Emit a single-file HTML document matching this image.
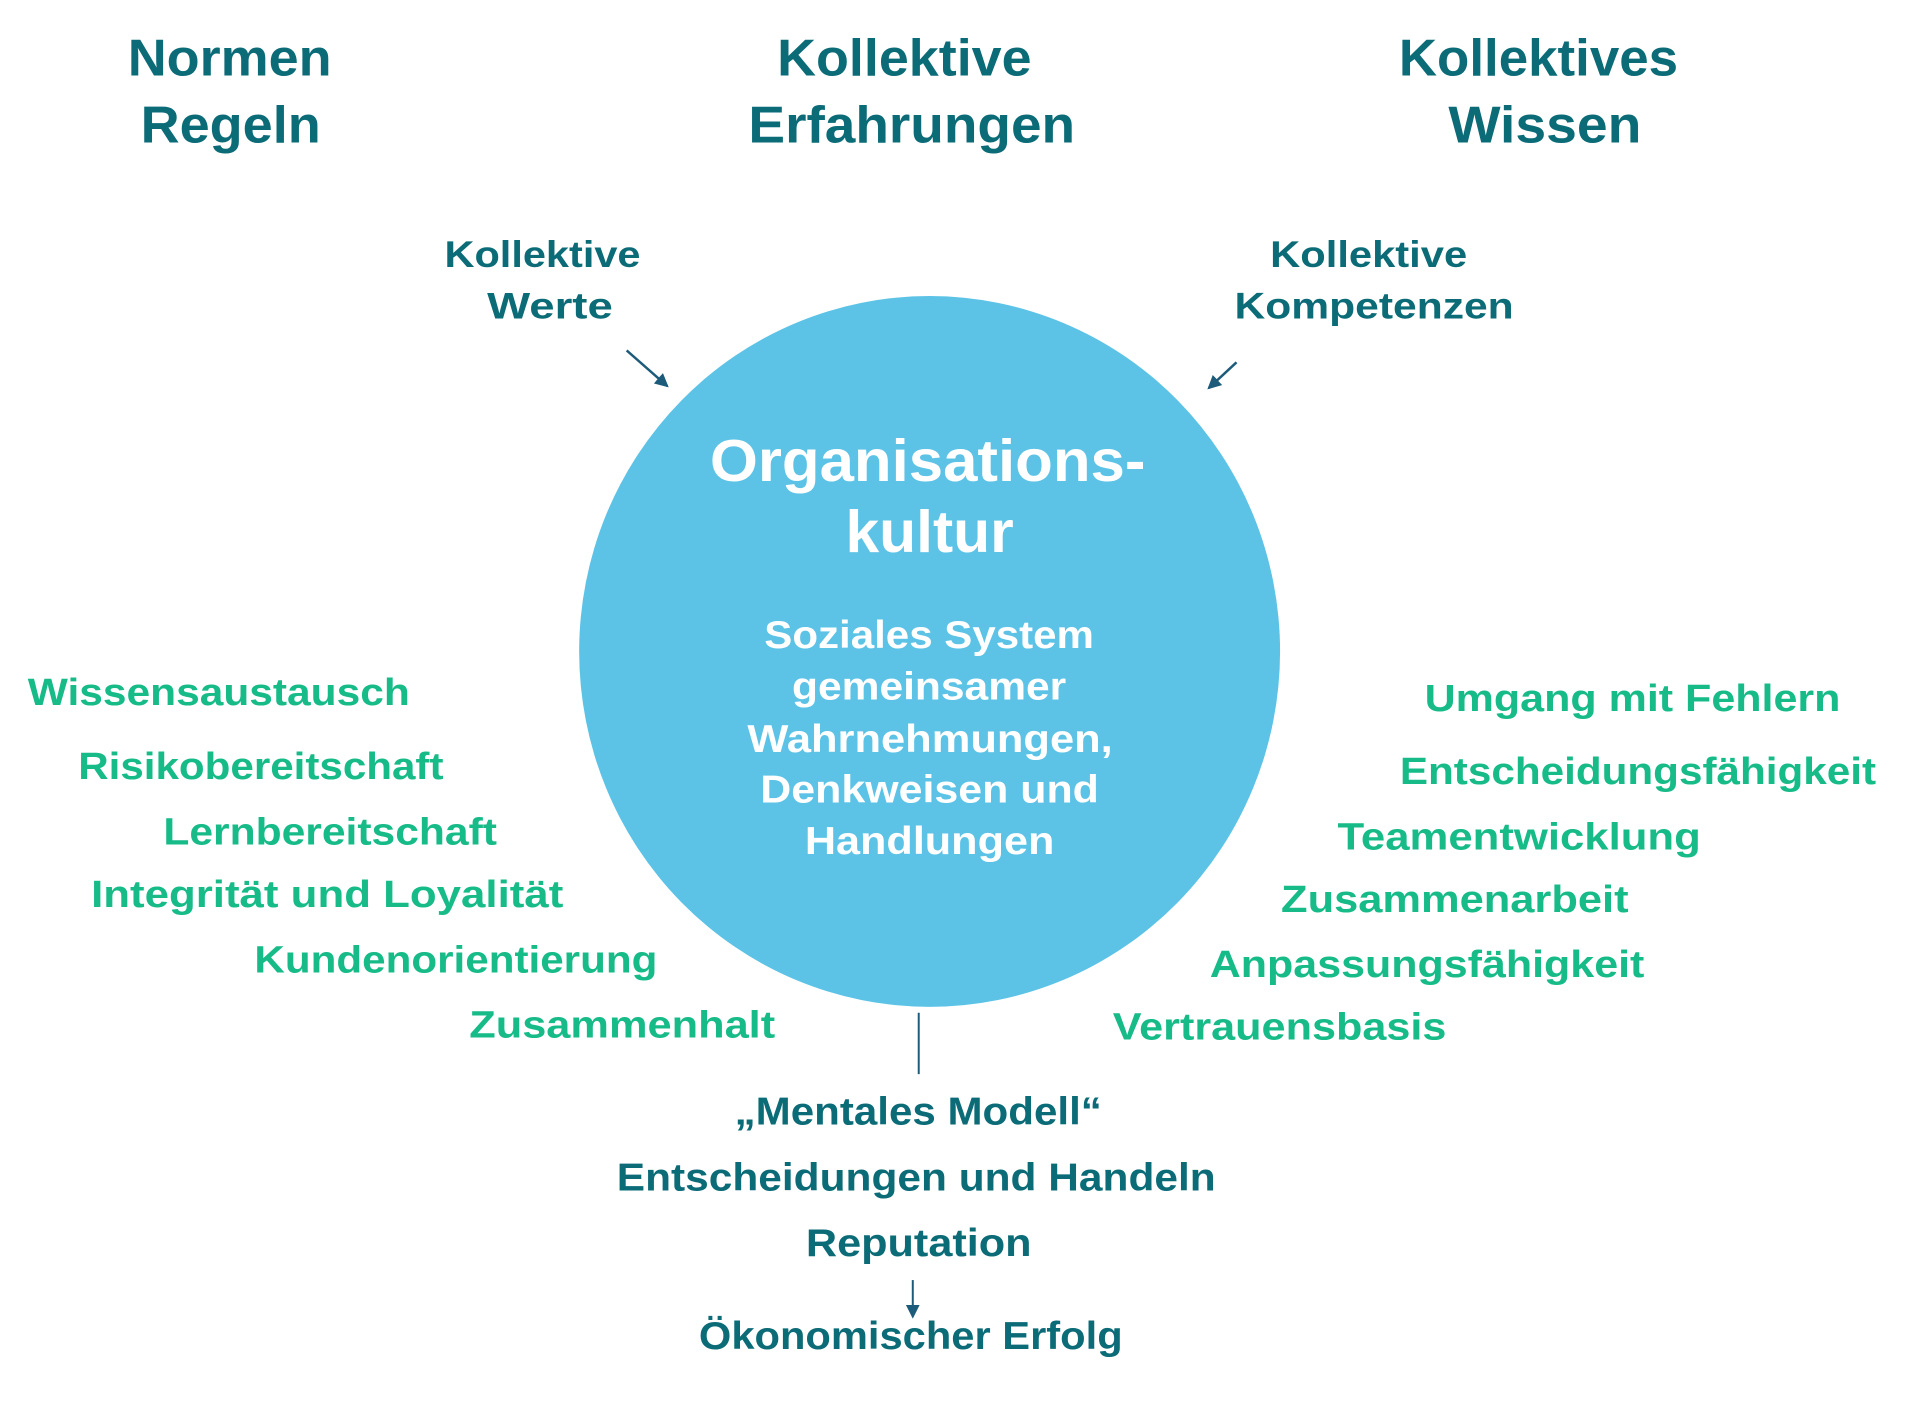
<!DOCTYPE html>
<html><head><meta charset="utf-8"><style>
html,body{margin:0;padding:0;background:#fff;}
svg{display:block;}
text{font-family:"Liberation Sans",sans-serif;font-weight:bold;dominant-baseline:central;}
.h{fill:#0b6b77;font-size:52px;}
.s{fill:#0b6b77;font-size:37px;}
.g{fill:#17bb88;font-size:38px;}
.w{fill:#fff;}
</style></head><body>
<svg width="1920" height="1402" viewBox="0 0 1920 1402" xmlns="http://www.w3.org/2000/svg">
<defs>
<marker id="b" markerWidth="14" markerHeight="14" refX="12" refY="7" orient="auto" markerUnits="userSpaceOnUse"><path d="M0,0 L14,7 L0,14 z" fill="#1d5b7a"/></marker></defs>
<g transform="scale(0.99)">
<ellipse cx="939" cy="658" rx="354" ry="359" fill="#5cc3e6"/>
<text class="h" x="129" y="58" textLength="206" lengthAdjust="spacingAndGlyphs">Normen</text>
<text class="h" x="142" y="126" textLength="182" lengthAdjust="spacingAndGlyphs">Regeln</text>
<text class="h" x="785" y="58" textLength="257" lengthAdjust="spacingAndGlyphs">Kollektive</text>
<text class="h" x="756" y="126" textLength="330" lengthAdjust="spacingAndGlyphs">Erfahrungen</text>
<text class="h" x="1413" y="58" textLength="282" lengthAdjust="spacingAndGlyphs">Kollektives</text>
<text class="h" x="1463" y="126" textLength="195" lengthAdjust="spacingAndGlyphs">Wissen</text>
<text class="s" x="449" y="257" textLength="198" lengthAdjust="spacingAndGlyphs">Kollektive</text>
<text class="s" x="492" y="309" textLength="127" lengthAdjust="spacingAndGlyphs">Werte</text>
<text class="s" x="1283" y="257" textLength="199" lengthAdjust="spacingAndGlyphs">Kollektive</text>
<text class="s" x="1247" y="309" textLength="282" lengthAdjust="spacingAndGlyphs">Kompetenzen</text>
<line x1="633" y1="354" x2="674" y2="390" stroke="#1d5b7a" stroke-width="2.5" marker-end="url(#b)"/>
<line x1="1249" y1="366" x2="1221" y2="392" stroke="#1d5b7a" stroke-width="2.5" marker-end="url(#b)"/>
<text class="w" style="font-size:60px" x="717" y="465" textLength="440" lengthAdjust="spacingAndGlyphs">Organisations-</text>
<text class="w" style="font-size:60px" x="854" y="537" textLength="170" lengthAdjust="spacingAndGlyphs">kultur</text>
<text class="w" style="font-size:39px" x="772" y="642" textLength="333" lengthAdjust="spacingAndGlyphs">Soziales System</text>
<text class="w" style="font-size:39px" x="800" y="694" textLength="277" lengthAdjust="spacingAndGlyphs">gemeinsamer</text>
<text class="w" style="font-size:39px" x="755" y="747" textLength="369" lengthAdjust="spacingAndGlyphs">Wahrnehmungen,</text>
<text class="w" style="font-size:39px" x="768" y="798" textLength="342" lengthAdjust="spacingAndGlyphs">Denkweisen und</text>
<text class="w" style="font-size:39px" x="813" y="850" textLength="252" lengthAdjust="spacingAndGlyphs">Handlungen</text>
<text class="g" x="28" y="699" textLength="386" lengthAdjust="spacingAndGlyphs">Wissensaustausch</text>
<text class="g" x="79" y="774" textLength="369" lengthAdjust="spacingAndGlyphs">Risikobereitschaft</text>
<text class="g" x="165" y="840" textLength="337" lengthAdjust="spacingAndGlyphs">Lernbereitschaft</text>
<text class="g" x="92" y="903" textLength="477" lengthAdjust="spacingAndGlyphs">Integrität und Loyalität</text>
<text class="g" x="257" y="969" textLength="407" lengthAdjust="spacingAndGlyphs">Kundenorientierung</text>
<text class="g" x="474" y="1035" textLength="309" lengthAdjust="spacingAndGlyphs">Zusammenhalt</text>
<text class="g" x="1439" y="705" textLength="420" lengthAdjust="spacingAndGlyphs">Umgang mit Fehlern</text>
<text class="g" x="1414" y="779" textLength="481" lengthAdjust="spacingAndGlyphs">Entscheidungsfähigkeit</text>
<text class="g" x="1351" y="845" textLength="367" lengthAdjust="spacingAndGlyphs">Teamentwicklung</text>
<text class="g" x="1294" y="908" textLength="351" lengthAdjust="spacingAndGlyphs">Zusammenarbeit</text>
<text class="g" x="1222" y="974" textLength="439" lengthAdjust="spacingAndGlyphs">Anpassungsfähigkeit</text>
<text class="g" x="1124" y="1037" textLength="337" lengthAdjust="spacingAndGlyphs">Vertrauensbasis</text>
<line x1="928" y1="1023" x2="928" y2="1085" stroke="#1d5b7a" stroke-width="2"/>
<text class="s" style="font-size:39px" x="742" y="1123" textLength="371" lengthAdjust="spacingAndGlyphs">„Mentales Modell“</text>
<text class="s" style="font-size:39px" x="623" y="1190" textLength="605" lengthAdjust="spacingAndGlyphs">Entscheidungen und Handeln</text>
<text class="s" style="font-size:39px" x="814" y="1256" textLength="228" lengthAdjust="spacingAndGlyphs">Reputation</text>
<line x1="922" y1="1293" x2="922" y2="1330" stroke="#1d5b7a" stroke-width="2" marker-end="url(#b)"/>
<text class="s" style="font-size:39px" x="706" y="1350" textLength="428" lengthAdjust="spacingAndGlyphs">Ökonomischer Erfolg</text>
</g>
</svg>
</body></html>
